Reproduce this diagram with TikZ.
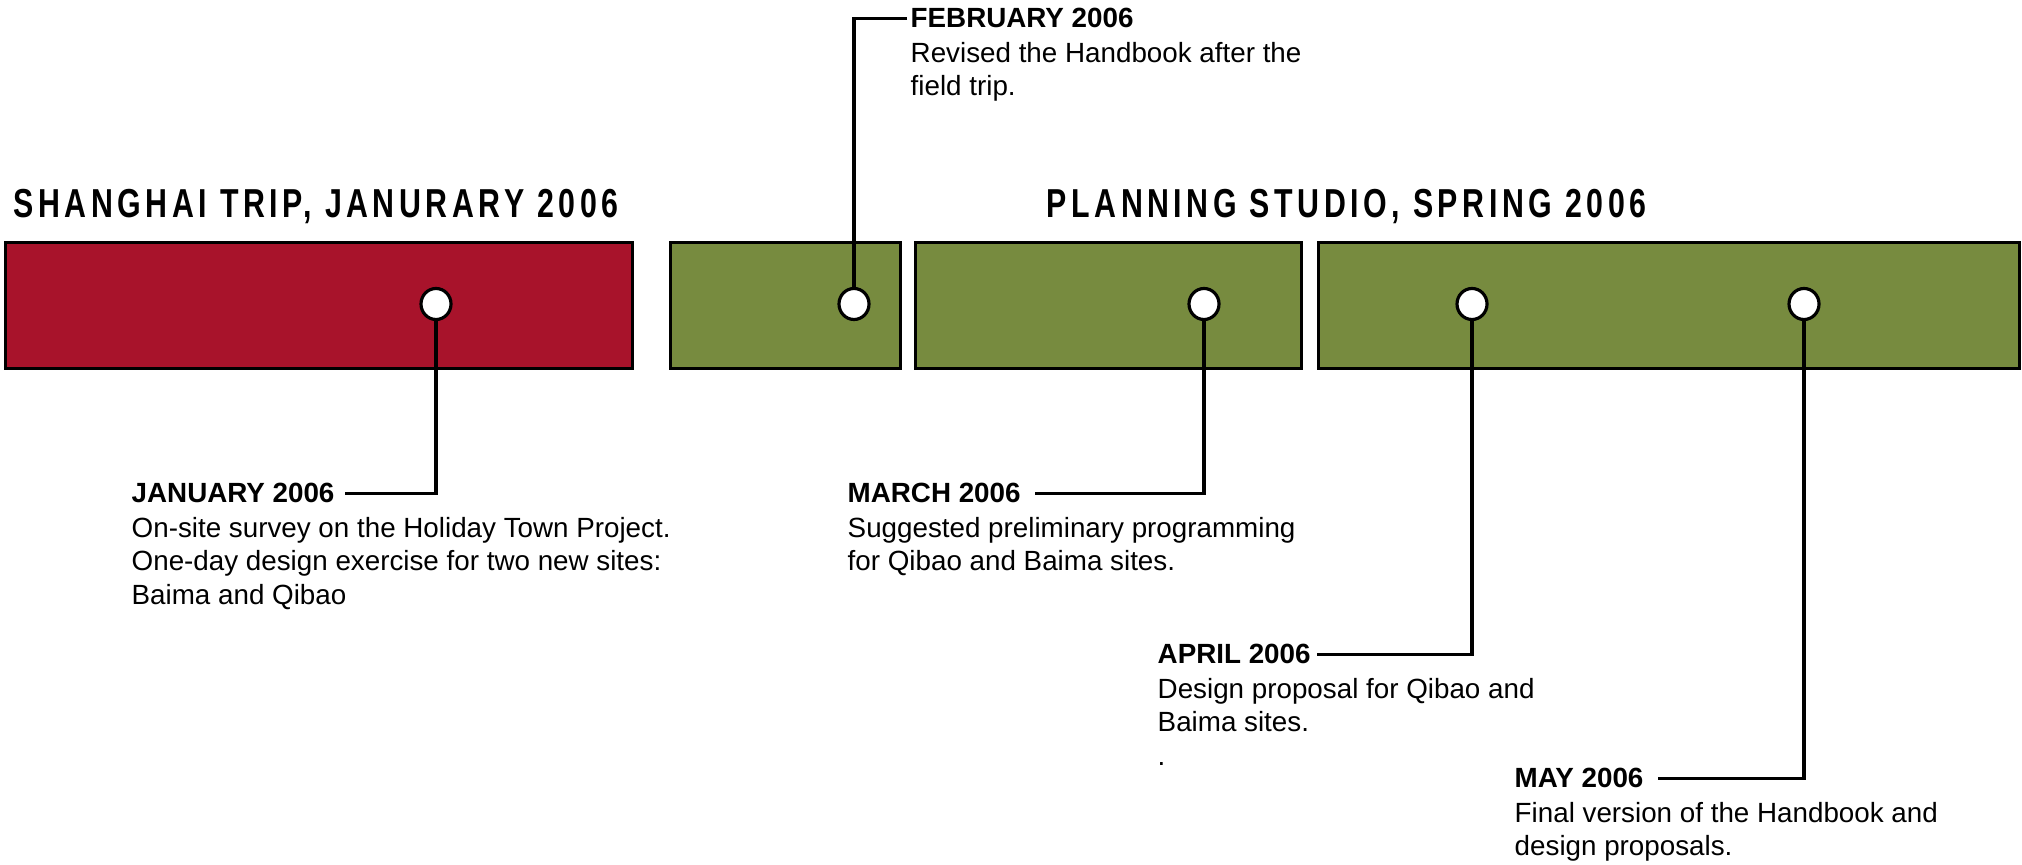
\documentclass[tikz,border=0pt]{standalone}
\usepackage{fontspec}
\usepackage{graphicx}
\setmainfont{Liberation Sans}
\newfontfamily\titlefont[LetterSpace=15]{Liberation Sans}
\usetikzlibrary{shapes,positioning,calc}

\begin{document}
\begin{tikzpicture}[x=0.01cm, y=-0.01cm, every node/.style={font=\fontsize{7.9}{9.5}\selectfont}]
        \definecolor{tripred}{RGB}{168,19,43}
        \definecolor{studiogreen}{RGB}{119,139,63}
        \tikzset{
            phase/.style={draw=black, line width=0.8pt, inner sep=0pt, anchor=north west, minimum height=1.26cm},
            dot/.style={ellipse, draw=black, fill=white, line width=0.9pt, minimum width=0.30cm, minimum height=0.31cm, inner sep=0pt},
            head/.style={font=\fontsize{7.9}{9.5}\selectfont\bfseries, inner sep=0pt, text height=5.6pt, text depth=0pt, anchor=base west},
            desc/.style={align=left, inner sep=0pt},
            link/.style={line width=0.9pt},
            phasetitle/.style={font=\titlefont\bfseries\fontsize{11.5}{13}\selectfont, inner sep=0pt, anchor=base west}
        }
        \useasboundingbox (0,0) rectangle (2022,865);

        % Section titles
        \node[phasetitle] (triptitle) at (13,218) {\scalebox{0.75}[1]{SHANGHAI TRIP, JANURARY 2006}};
        \node[phasetitle] (studiotitle) at (1046,218) {\scalebox{0.75}[1]{PLANNING STUDIO, SPRING 2006}};

        % Phase bars
        \node[phase, fill=tripred, minimum width=6.27cm] (trip) at (4,241) {};
        \node[phase, fill=studiogreen, minimum width=2.30cm] (feb) at (669,241) {};
        \node[phase, fill=studiogreen, minimum width=3.86cm] (mar) at (914,241) {};
        \node[phase, fill=studiogreen, minimum width=7.01cm] (aprmay) at (1317,241) {};

        % Milestones
        \node[dot] (p1) at (436,304) {};
        \node[dot] (p2) at (854,304) {};
        \node[dot] (p3) at (1204,304) {};
        \node[dot] (p4) at (1472,304) {};
        \node[dot] (p5) at (1804,304) {};

        % January
        \node[head] (janhead) at (131,503) {JANUARY 2006};
        \node[desc, below=0.135cm of janhead.base west, anchor=north west] (jantext) {On-site survey on the Holiday Town Project.\\One-day design exercise for two new sites:\\Baima and Qibao};
        \draw[link] ([xshift=0.1cm]janhead.east) -| (p1.south);

        % February
        \node[head] (febhead) at (910,28) {FEBRUARY 2006};
        \node[desc, below=0.135cm of febhead.base west, anchor=north west] (febtext) {Revised the Handbook after the\\field trip.};
        \draw[link] ([xshift=-0.03cm]febhead.west) -| (p2.north);

        % March
        \node[head] (marhead) at (847,503) {MARCH 2006};
        \node[desc, below=0.135cm of marhead.base west, anchor=north west] (martext) {Suggested preliminary programming\\for Qibao and Baima sites.};
        \draw[link] ([xshift=0.14cm]marhead.east) -| (p3.south);

        % April
        \node[head] (aprhead) at (1157,664) {APRIL 2006};
        \node[desc, below=0.135cm of aprhead.base west, anchor=north west] (aprtext) {Design proposal for Qibao and\\Baima sites.\\.};
        \draw[link] ([xshift=0.06cm]aprhead.east) -| (p4.south);

        % May
        \node[head] (mayhead) at (1514,788) {MAY 2006};
        \node[desc, below=0.135cm of mayhead.base west, anchor=north west] (maytext) {Final version of the Handbook and\\design proposals.};
        \draw[link] ([xshift=0.14cm]mayhead.east) -| (p5.south);
    \end{tikzpicture}
\end{document}
